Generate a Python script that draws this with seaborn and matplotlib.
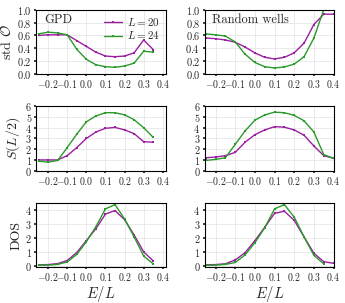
import numpy as np
import pandas as pd
import matplotlib
matplotlib.use("Agg")
import matplotlib.pyplot as plt
import matplotlib.ticker as mticker
import seaborn as sns

sns.set_theme(style="whitegrid")
plt.rcParams.update({
    "font.family": "serif",
    "font.serif": ["cmr10"],
    "mathtext.fontset": "cm",
    "axes.formatter.use_mathtext": True,
    "axes.edgecolor": "black",
    "axes.linewidth": 0.8,
    "grid.color": "#e6e6e6",
    "grid.linewidth": 0.6,
    "xtick.labelsize": 7.1,
    "ytick.labelsize": 7.4,
    "xtick.bottom": True,
    "ytick.left": True,
    "xtick.major.size": 1.5,
    "ytick.major.size": 1.5,
    "xtick.major.pad": 1.5,
    "ytick.major.pad": 1.5,
})

E_gpd = [-0.25, -0.2, -0.15, -0.1, -0.05, 0.0, 0.05, 0.1, 0.15, 0.2, 0.25, 0.3, 0.35]
E_rw = [-0.25, -0.2, -0.15, -0.1, -0.05, 0.0, 0.05, 0.1, 0.15, 0.2, 0.25, 0.3, 0.35, 0.4]

# std O
std_gpd_20 = [0.60, 0.61, 0.61, 0.61, 0.52, 0.43, 0.34, 0.28, 0.27, 0.28, 0.33, 0.53, 0.38]
std_gpd_24 = [0.625, 0.65, 0.64, 0.61, 0.385, 0.23, 0.145, 0.115, 0.105, 0.125, 0.17, 0.355, 0.34]
std_rw_20 = [0.56, 0.55, 0.53, 0.495, 0.42, 0.33, 0.26, 0.235, 0.26, 0.33, 0.48, 0.77, 0.93, 0.93]
std_rw_24 = [0.625, 0.61, 0.59, 0.50, 0.31, 0.18, 0.115, 0.095, 0.11, 0.155, 0.27, 0.56, 1.0, 1.08]

# S(L/2)
S_gpd_20 = [1.0, 1.0, 1.0, 1.4, 2.15, 3.0, 3.6, 3.95, 4.03, 3.8, 3.45, 2.7, 2.65]
S_gpd_24 = [0.9, 0.8, 0.95, 2.15, 3.4, 4.55, 5.1, 5.4, 5.4, 5.2, 4.75, 4.0, 3.1]
S_rw_20 = [1.2, 1.27, 1.4, 1.7, 2.65, 3.35, 3.8, 4.1, 4.05, 3.8, 3.3, 2.3, 1.4, 1.15]
S_rw_24 = [0.95, 1.05, 1.2, 2.45, 3.7, 4.7, 5.2, 5.45, 5.4, 5.15, 4.65, 3.6, 1.5, 1.15]

# DOS
D_gpd_20 = [0.07, 0.09, 0.16, 0.38, 0.95, 1.8, 2.65, 3.7, 3.95, 3.3, 2.2, 1.0, 0.35]
D_gpd_24 = [0.05, 0.05, 0.10, 0.28, 0.82, 1.72, 2.8, 4.07, 4.38, 3.35, 2.07, 0.7, 0.14]
D_rw_20 = [0.07, 0.09, 0.15, 0.42, 0.94, 1.8, 2.75, 3.75, 3.9, 3.25, 2.07, 0.9, 0.3, 0.18]
D_rw_24 = [0.04, 0.05, 0.10, 0.24, 0.78, 1.65, 2.72, 4.07, 4.38, 3.48, 2.07, 0.75, 0.14, np.nan]

titles = ["GPD", "Random wells"]
ylabels = ["std $\\mathcal{O}$", "$S(L/2)$", "DOS"]
sizes = ["$L = 20$", "$L = 24$"]
colors = {"$L = 20$": "#9a1f9f", "$L = 24$": "#2b9a2b"}

data = [
    [(E_gpd, std_gpd_20, std_gpd_24), (E_rw, std_rw_20, std_rw_24)],
    [(E_gpd, S_gpd_20, S_gpd_24), (E_rw, S_rw_20, S_rw_24)],
    [(E_gpd, D_gpd_20, D_gpd_24), (E_rw, D_rw_20, D_rw_24)],
]
ylims = [(0, 1.0), (0, 6), (-0.1, 4.5)]
yticks = [np.arange(0, 1.01, 0.2), np.arange(0, 7, 1), np.arange(0, 5, 1)]
xlims = [(-0.262, 0.415), (-0.256, 0.402)]

fmt1 = mticker.FuncFormatter(lambda v, p: "$%.1f$" % (0.0 if abs(v) < 1e-9 else v))
fmt0 = mticker.FuncFormatter(lambda v, p: "$%d$" % round(v))

fig, axes = plt.subplots(3, 2, figsize=(3.45, 3.03), dpi=100)
fig.subplots_adjust(left=0.105, right=0.968, top=0.968, bottom=0.118,
                    wspace=0.3, hspace=0.5)

for r in range(3):
    for c in range(2):
        ax = axes[r, c]
        E, y20, y24 = data[r][c]
        df = pd.DataFrame({
            "E": list(E) * 2,
            "y": list(y20) + list(y24),
            "L": [sizes[0]] * len(E) + [sizes[1]] * len(E),
        })
        sns.lineplot(data=df, x="E", y="y", hue="L", palette=colors, ax=ax,
                     marker="s", markersize=2, markeredgewidth=0,
                     linewidth=1.0, legend=(r == 0 and c == 0))
        ax.set_xlim(*xlims[c])
        ax.set_ylim(*ylims[r])
        ax.set_yticks(yticks[r])
        ax.set_xticks([-0.2, -0.1, 0.0, 0.1, 0.2, 0.3, 0.4])
        ax.yaxis.set_major_formatter(fmt1 if r == 0 else fmt0)
        ax.xaxis.set_major_formatter(fmt1)
        ax.set_xlabel("$E/L$" if r == 2 else "", fontsize=10.5, labelpad=0.5)
        ax.set_ylabel(ylabels[r] if c == 0 else "", fontsize=10, labelpad=2)
        for s in ax.spines.values():
            s.set_color("black")
            s.set_linewidth(0.8)
        if r == 0:
            ax.text(0.06, 0.93, titles[c], transform=ax.transAxes,
                    fontsize=9, va="top", ha="left")
        if r == 0 and c == 0:
            ax.legend(title=None, frameon=False, fontsize=8, loc="upper right",
                      handlelength=1.6, borderaxespad=0.15, labelspacing=0.15,
                      handletextpad=0.4)

fig.savefig("out.png", dpi=100)
